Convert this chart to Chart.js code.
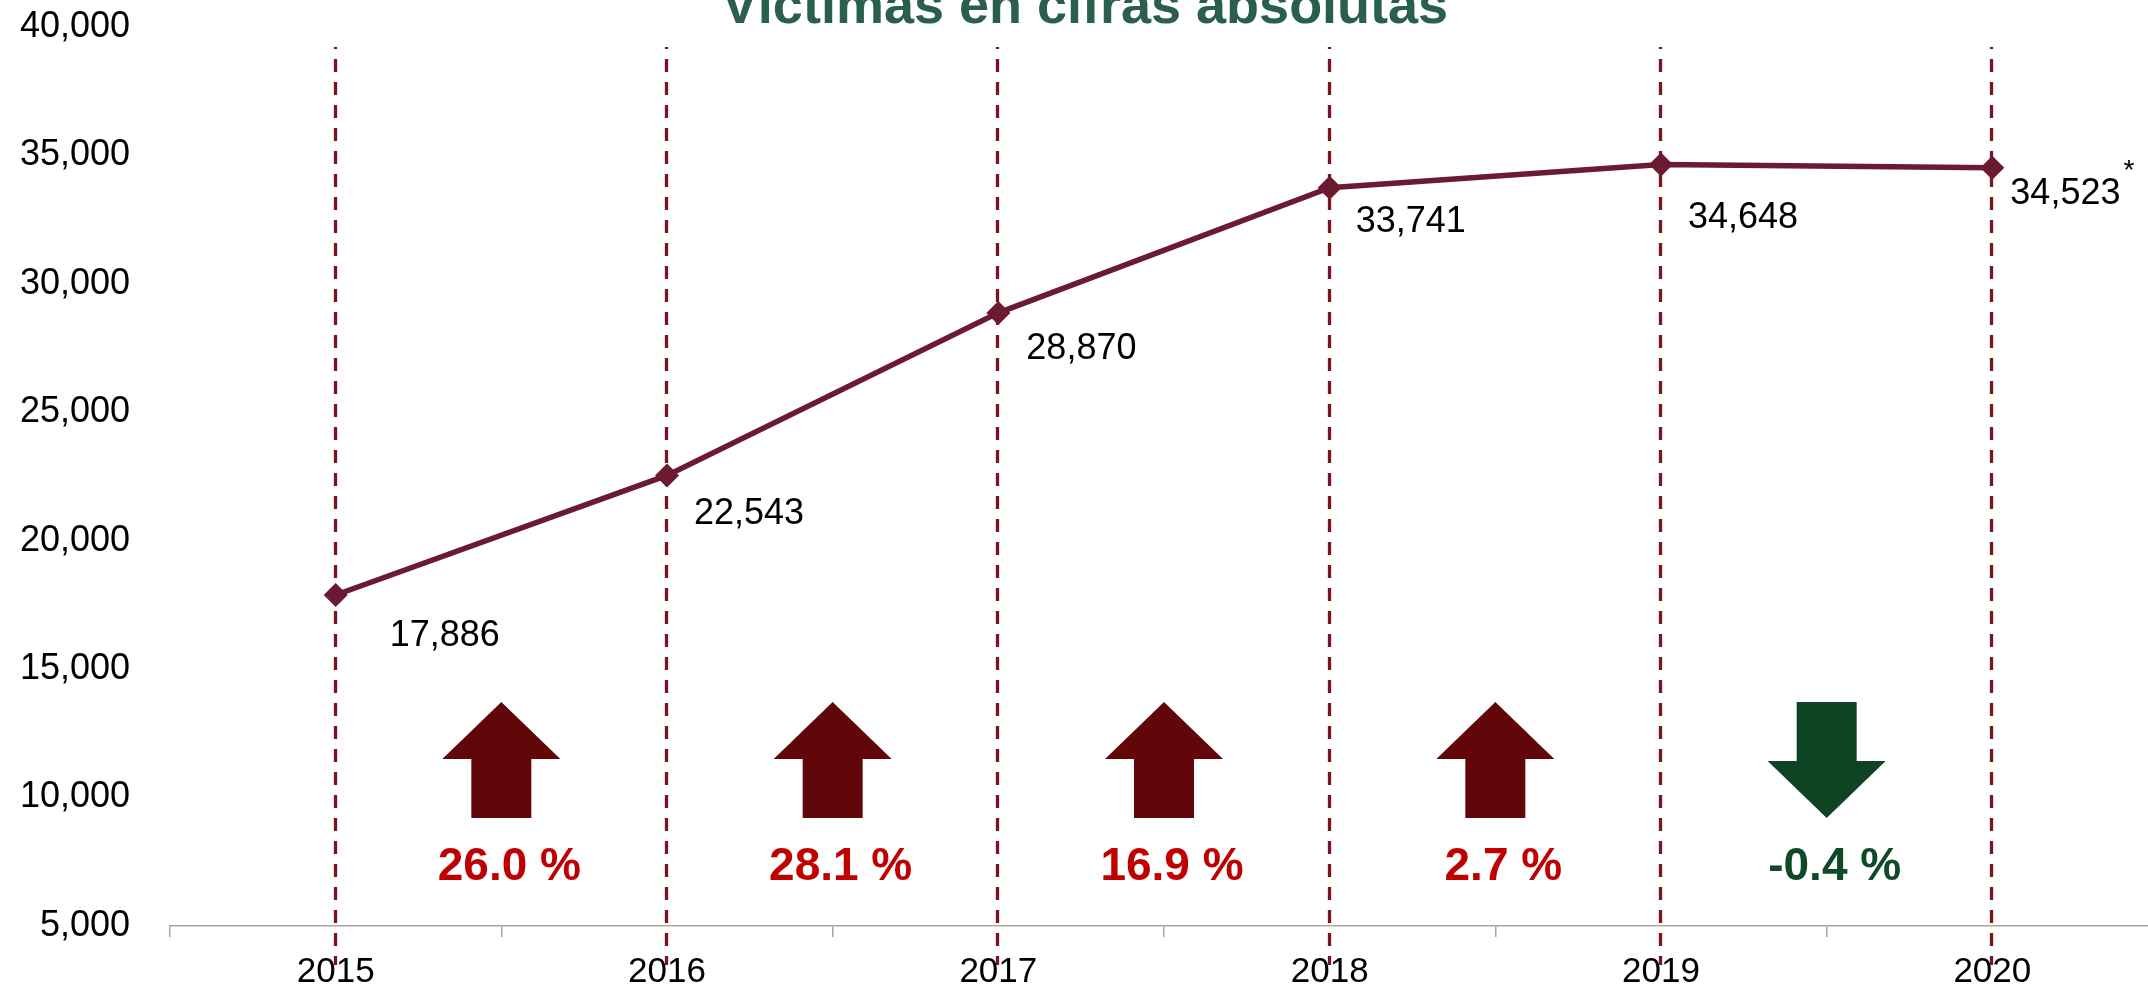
<!DOCTYPE html>
<html>
<head>
<meta charset="utf-8">
<script src="https://cdn.jsdelivr.net/npm/chart.js@4.4.1/dist/chart.umd.min.js"></script>
<style>
  html, body { margin: 0; padding: 0; overflow: hidden; background: #ffffff; }
  #wrap { width: 2170px; height: 985px; }
</style>
</head>
<body>
<div id="wrap"><canvas id="c" width="2170" height="985"></canvas></div>
<script>
// ---- data ----
const categories = ['2015', '2016', '2017', '2018', '2019', '2020'];
const victims = [17886, 22543, 28870, 33741, 34648, 34523];
const footnoteMarks = ['', '', '', '', '', '*'];
const changes = [26.0, 28.1, 16.9, 2.7, -0.4];
const yMin = 5000, yMax = 40000, yStep = 5000;
const titleText = 'Víctimas en cifras absolutas';

// ---- style ----
const FONT = '"Liberation Sans", Arial, sans-serif';
const lineColor = '#6b1a31';
const dashColor = '#7a1520';
const upColor = '#620709', downColor = '#0e4423';
const upTextColor = '#c00000', downTextColor = '#0f4a27';
const titleColor = '#2a5f4e';
const labelOffsets = [[54, 41], [27, 39], [28, 36], [26, 34], [27, 54], [18, 26]];

const fmt = v => Number(v).toLocaleString('en-US');

const decorPlugin = {
  id: 'decor',
  beforeDatasetsDraw(chart) {
    const ctx = chart.ctx, xs = chart.scales.x, area = chart.chartArea;
    ctx.save();
    ctx.strokeStyle = dashColor;
    ctx.lineWidth = 3.3;
    ctx.setLineDash([13, 10]);
    ctx.lineDashOffset = 11;
    categories.forEach((c, i) => {
      const x = Math.round(xs.getPixelForValue(i)) - 0.5;
      ctx.beginPath();
      ctx.moveTo(x, area.top + 20);
      ctx.lineTo(x, area.bottom + 39);
      ctx.stroke();
    });
    ctx.setLineDash([]);
    // arrows + percentage labels
    const ys = chart.scales.y;
    changes.forEach((ch, i) => {
      const cx = (xs.getPixelForValue(i) + xs.getPixelForValue(i + 1)) / 2;
      const top = ys.getPixelForValue(13720);
      const h = 116, headH = 57, headW = 59, shaftW = 30;
      ctx.beginPath();
      if (ch >= 0) {
        ctx.fillStyle = upColor;
        ctx.moveTo(cx, top);
        ctx.lineTo(cx + headW, top + headH);
        ctx.lineTo(cx + shaftW, top + headH);
        ctx.lineTo(cx + shaftW, top + h);
        ctx.lineTo(cx - shaftW, top + h);
        ctx.lineTo(cx - shaftW, top + headH);
        ctx.lineTo(cx - headW, top + headH);
      } else {
        ctx.fillStyle = downColor;
        ctx.moveTo(cx - shaftW, top);
        ctx.lineTo(cx + shaftW, top);
        ctx.lineTo(cx + shaftW, top + h - headH);
        ctx.lineTo(cx + headW, top + h - headH);
        ctx.lineTo(cx, top + h);
        ctx.lineTo(cx - headW, top + h - headH);
        ctx.lineTo(cx - shaftW, top + h - headH);
      }
      ctx.closePath();
      ctx.fill();
      ctx.font = 'bold 46px ' + FONT;
      ctx.textAlign = 'center';
      ctx.textBaseline = 'middle';
      ctx.fillStyle = ch >= 0 ? upTextColor : downTextColor;
      ctx.fillText(ch.toFixed(1) + ' %', cx + 8, ys.getPixelForValue(7300));
    });
    ctx.restore();
  },
  afterDatasetsDraw(chart) {
    const ctx = chart.ctx;
    const meta = chart.getDatasetMeta(0);
    ctx.save();
    ctx.fillStyle = '#000000';
    ctx.textAlign = 'left';
    ctx.textBaseline = 'middle';
    meta.data.forEach((pt, i) => {
      const [dx, dy] = labelOffsets[i];
      const txt = fmt(victims[i]);
      ctx.font = '36px ' + FONT;
      const x = pt.x + dx, y = pt.y + dy;
      ctx.fillText(txt, x, y);
      if (footnoteMarks[i]) {
        const w = ctx.measureText(txt).width;
        ctx.font = '28px ' + FONT;
        ctx.fillText(footnoteMarks[i], x + w + 3, y - 22);
      }
    });
    // title
    ctx.font = 'bold 54px ' + FONT;
    ctx.fillStyle = titleColor;
    ctx.textAlign = 'center';
    ctx.textBaseline = 'alphabetic';
    ctx.fillText(titleText, 1085, 23);
    ctx.restore();
  }
};

new Chart(document.getElementById('c'), {
  type: 'line',
  data: {
    labels: categories,
    datasets: [{
      data: victims,
      borderColor: lineColor,
      borderWidth: 5.5,
      backgroundColor: lineColor,
      pointStyle: 'rectRot',
      pointRadius: 12,
      pointBackgroundColor: lineColor,
      pointBorderColor: lineColor,
      pointBorderWidth: 0,
      tension: 0,
      fill: false
    }]
  },
  options: {
    responsive: false,
    animation: false,
    devicePixelRatio: 1,
    layout: { padding: { top: 27, right: 4, left: 0, bottom: 0 } },
    plugins: { legend: { display: false }, tooltip: { enabled: false }, title: { display: false } },
    scales: {
      x: {
        type: 'category',
        offset: true,
        afterFit(s) { s.height = 59; s.paddingLeft = 0; s.paddingRight = 0; s.paddingTop = 0; s.paddingBottom = 0; },
        grid: { offset: true, drawOnChartArea: false, drawTicks: true, tickLength: 11, color: '#a6a6a6', lineWidth: 1.5 },
        border: { display: true, color: '#a6a6a6', width: 1.5 },
        ticks: { color: '#000000', font: { family: FONT, size: 35 }, padding: 14, maxRotation: 0, autoSkip: false }
      },
      y: {
        min: yMin, max: yMax,
        afterFit(s) { s.width = 170; s.paddingTop = 0; s.paddingBottom = 0; s.paddingLeft = 0; s.paddingRight = 0; },
        grid: { display: false, drawTicks: false },
        border: { display: false },
        ticks: { stepSize: yStep, color: '#000000', font: { family: FONT, size: 36 }, padding: 40, callback: v => fmt(v) }
      }
    }
  },
  plugins: [decorPlugin]
});
</script>
</body>
</html>
